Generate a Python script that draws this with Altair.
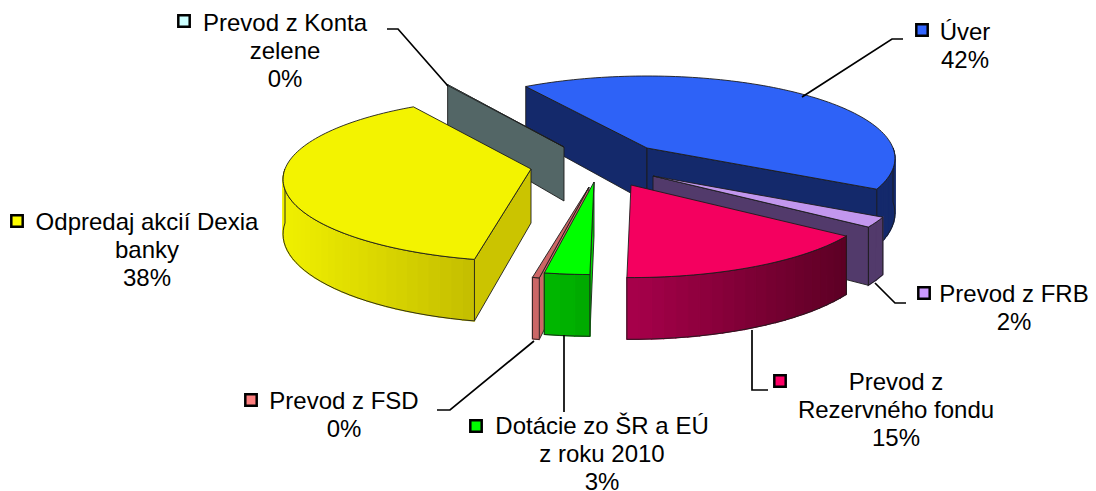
import math
import altair as alt

# ---- values -------------------------------------------------------------
names = ["Úver", "Prevod z FRB", "Prevod z Rezervného fondu", "Dotácie zo ŠR a EÚ z roku 2010",
         "Prevod z FSD", "Odpredaj akcií Dexia banky", "Prevod z Konta zelene"]
shares = [42.1, 2.0, 15.3, 2.6, 0.4, 37.9, 0.1]
top_colors = ["#2e62f7", "#c297ee", "#f4005f", "#00ff00", "#cc6666", "#f3f300", "#ccffff"]
key_colors = ["#3366ff", "#cc99ff", "#ff0066", "#00ff00", "#ff8080", "#ffff00", "#ccffff"]
label_lines = [["Úver"], ["Prevod z FRB"], ["Prevod z", "Rezervného fondu"],
               ["Dotácie zo ŠR a EÚ", "z roku 2010"], ["Prevod z FSD"],
               ["Odpredaj akcií Dexia", "banky"], ["Prevod z Konta", "zelene"]]

# ---- layout (page pixels) -------------------------------------------------
W, H, M = 1080, 483, 8
START = -33.0
A, B, K, DEPTH = 246.0, 81.0, 0.125, 54.0
apex = [(647, 148), (653, 176), (631, 185), (594, 182), (589, 187), (531, 169), (564, 147)]
inner_col = ["#14296b", "#523a6b", None, "#00d800", "#cc6666", "#cbc400", "#536666"]
wall_left = ["#14296b", "#523a6b", "#a8004b", "#00b900", "#cc6666", "#f0f000", "#536666"]
wall_right = ["#14296b", "#523a6b", "#5c0024", "#00a800", "#cc6666", "#c4bd00", "#536666"]
draw_start = [True, False, False, True, True, True, False]
draw_end = [True, True, False, False, False, False, True]
order = [0, 6, 5, 1, 2, 4, 3]
label_pos = [(965, 33), (1014, 295), (896, 383), (602, 427), (344, 402), (147, 223), (285, 24)]
key_pos = [(922, 30), (924, 293), (780, 381), (476, 426), (251, 400), (17, 221), (184, 21)]
leaders = [[(802, 97), (892, 39), (903, 39)], [(875, 283), (895, 303), (906, 303)],
           [(752, 330), (752, 390), (768, 390)], [(564, 335), (564, 412)],
           [(534, 341), (450, 410), (437, 410)], [], [(387, 29), (398, 29), (448, 86)]]
LINE = 28


def rim(i, t):
    r = math.radians(t)
    X, Y = math.sin(r), -math.cos(r)
    w = 1 - K * Y
    return (apex[i][0] + A * X / w, apex[i][1] + B * Y / w, DEPTH / w)


def hexmix(c1, c2, f):
    a = [int(c1[j:j + 2], 16) for j in (1, 3, 5)]
    b = [int(c2[j:j + 2], 16) for j in (1, 3, 5)]
    return "#%02x%02x%02x" % tuple(round(a[j] + (b[j] - a[j]) * f) for j in range(3))


features = []


def poly(points, fill, stroke, sw):
    pts = [[p[0] - M, p[1] - M] for p in points]
    pts.append(pts[0])
    features.append({"type": "Feature", "geometry": {"type": "Polygon", "coordinates": [pts]},
                     "properties": {"fill": fill, "stroke": stroke, "sw": sw}})


OUT = "#1c1c1c"
edges = [START]
for s in shares:
    edges.append(edges[-1] + s * 3.6)


def inner(i, t):
    ax, ay = apex[i]
    x, y, d = rim(i, t)
    poly([(ax, ay), (x, y), (x, y + d), (ax, ay + DEPTH)], inner_col[i], OUT, 0.9)


for i in order:
    t0, t1 = edges[i], edges[i + 1]
    ax, ay = apex[i]
    if draw_start[i]:
        inner(i, t0)
    if draw_end[i] and i != 1:
        inner(i, t1)

    if i == 5:
        a0, a1 = t0, 270.0
    elif i == 0:
        a0, a1 = 90.0, t1
    elif i == 6:
        a0, a1 = t0, t0
    else:
        a0, a1 = t0, t1
    if a1 > a0:
        n = max(2, int((a1 - a0) / 2.5))
        angles = [a0 + (a1 - a0) * j / n for j in range(n + 1)]
        pts = [rim(i, a) for a in angles]
        xs = [p[0] for p in pts]
        lo, hi = min(xs), max(xs)
        for j in range(n):
            p, q = pts[j], pts[j + 1]
            mid = (p[0] + q[0]) / 2
            f = (mid - lo) / (hi - lo) if hi > lo else 0
            c = hexmix(wall_left[i], wall_right[i], f)
            poly([p[:2], q[:2], (q[0], q[1] + q[2]), (p[0], p[1] + p[2])], c, c, 1.3)
        outline = [p[:2] for p in pts] + [(p[0], p[1] + p[2]) for p in reversed(pts)]
        poly(outline, "transparent", OUT, 0.9)

    if draw_end[i] and i == 1:
        inner(i, t1)

    n = max(2, int((t1 - t0) / 1.5))
    arc = [rim(i, t0 + (t1 - t0) * j / n)[:2] for j in range(n + 1)]
    poly([(ax, ay)] + arc, top_colors[i], OUT, 0.9)

x_scale = alt.Scale(domain=[0, W], range=[0, W], nice=False, zero=False)
y_scale = alt.Scale(domain=[0, H], range=[0, H], nice=False, zero=False)
X = alt.X("x:Q", scale=x_scale, axis=None)
Y = alt.Y("y:Q", scale=y_scale, axis=None)

shapes = alt.Chart(alt.Data(values=features)).mark_geoshape().encode(
    fill=alt.Fill("properties.fill:N", scale=None),
    stroke=alt.Stroke("properties.stroke:N", scale=None),
    strokeWidth=alt.StrokeWidth("properties.sw:Q", scale=None),
).project(type="identity", scale=1, translate=[0, 0])

leader_rows = [{"x": p[0] - M, "y": p[1] - M, "g": i, "o": j}
               for i, line in enumerate(leaders) for j, p in enumerate(line)]
leader_layer = alt.Chart(alt.Data(values=leader_rows)).mark_line(color="black", strokeWidth=1.7).encode(
    x=X, y=Y, detail="g:N", order="o:Q")

text_rows = []
for i, lines in enumerate(label_lines):
    lx, ly = label_pos[i]
    for j, t in enumerate(lines + [f"{round(shares[i])}%"]):
        text_rows.append({"x": lx - M, "y": ly + j * LINE - M, "t": t})
text_layer = alt.Chart(alt.Data(values=text_rows)).mark_text(
    font="Liberation Sans", fontSize=24, align="center", baseline="middle", color="black"
).encode(x=X, y=Y, text="t:N")

key_rows = [{"x": p[0] - M, "y": p[1] - M, "c": key_colors[i]} for i, p in enumerate(key_pos)]
key_layer = alt.Chart(alt.Data(values=key_rows)).mark_point(
    shape="square", filled=True, size=130, stroke="black", strokeWidth=2.5, opacity=1
).encode(x=X, y=Y, fill=alt.Fill("c:N", scale=None))

chart = alt.layer(shapes, leader_layer, text_layer, key_layer).properties(
    width=W, height=H, padding=0, autosize=alt.AutoSizeParams(type="none")
).configure_view(stroke=None)

chart.save("out.html", embed_options={"renderer": "svg", "actions": False})
